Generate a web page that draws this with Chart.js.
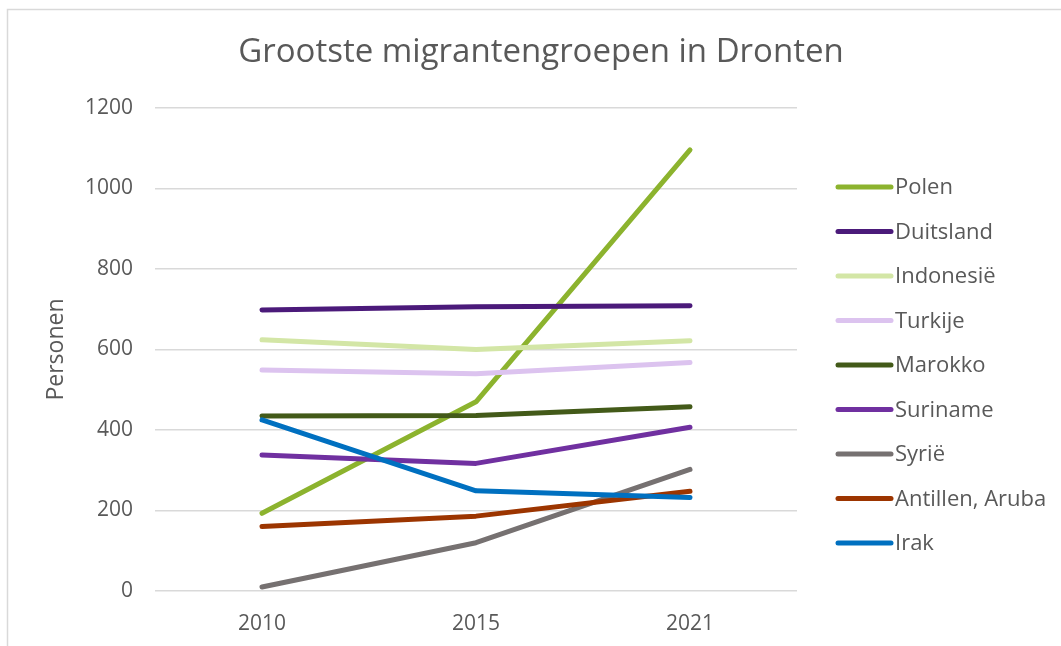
<!DOCTYPE html>
<html>
<head>
<meta charset="utf-8">
<script src="https://cdn.jsdelivr.net/npm/chart.js@4"></script>
<style>
  html, body { margin: 0; padding: 0; background: #ffffff; }
  #wrap { position: relative; width: 1061px; height: 646px; }
</style>
</head>
<body>
<div id="wrap"><canvas id="c" width="1061" height="646"></canvas></div>
<script>
const categories = ['2010', '2015', '2021'];
const seriesNames = ['Polen', 'Duitsland', 'Indonesië', 'Turkije', 'Marokko', 'Suriname', 'Syrië', 'Antillen, Aruba', 'Irak'];
const polen     = [193, 470, 1096];
const duitsland = [698, 706, 709];
const indonesie = [624, 600, 622];
const turkije   = [549, 540, 568];
const marokko   = [435, 436, 458];
const suriname  = [338, 317, 407];
const syrie     = [10, 120, 302];
const antillen  = [160, 186, 248];
const irak      = [425, 249, 232];
const yTicks = [0, 200, 400, 600, 800, 1000, 1200];
const chartTitle = 'Grootste migrantengroepen in Dronten';
const yTitle = 'Personen';

const seriesValues = [polen, duitsland, indonesie, turkije, marokko, suriname, syrie, antillen, irak];
const seriesColors = ['#8CB32E', '#4B1A7A', '#D3E6A6', '#DCC3EF', '#435A19', '#7030A0', '#767171', '#9C3500', '#0070C0'];

const FONT = "'Open Sans', 'Liberation Sans', sans-serif";
const TEXT = '#595959';
const GRID = '#d9d9d9';

const datasets = seriesNames.map((name, i) => ({
  label: name,
  data: seriesValues[i],
  borderColor: seriesColors[i],
  backgroundColor: seriesColors[i],
  borderWidth: 5,
  borderCapStyle: 'round',
  borderJoinStyle: 'round',
  pointRadius: 0,
  pointHoverRadius: 0,
  tension: 0,
  fill: false,
  order: -i
}));

const framePlugin = {
  id: 'frame',
  beforeDraw(chart) {
    const ctx = chart.ctx;
    ctx.save();
    ctx.strokeStyle = GRID;
    ctx.lineWidth = 1.5;
    ctx.beginPath();
    ctx.moveTo(7.5, 646);
    ctx.lineTo(7.5, 9.5);
    ctx.lineTo(1061, 9.5);
    ctx.stroke();
    ctx.fillStyle = TEXT;
    ctx.font = '33px ' + FONT;
    ctx.textAlign = 'center';
    ctx.textBaseline = 'middle';
    ctx.fillText(chartTitle, 541, 53);
    ctx.restore();
  }
};

const legendPlugin = {
  id: 'customLegend',
  afterDraw(chart) {
    const ctx = chart.ctx;
    ctx.save();
    ctx.font = '22px ' + FONT;
    ctx.textBaseline = 'middle';
    ctx.textAlign = 'left';
    chart.data.datasets.forEach((ds, i) => {
      const y = 187 + i * 44.5;
      ctx.strokeStyle = ds.borderColor;
      ctx.lineWidth = 5;
      ctx.lineCap = 'round';
      ctx.beginPath();
      ctx.moveTo(838, y);
      ctx.lineTo(891, y);
      ctx.stroke();
      ctx.fillStyle = TEXT;
      ctx.fillText(ds.label, 895, y + 1);
    });
    ctx.restore();
  }
};

new Chart(document.getElementById('c'), {
  type: 'line',
  data: { labels: categories, datasets },
  options: {
    responsive: false,
    animation: false,
    events: [],
    layout: { padding: { left: 40, right: 264, top: 108, bottom: 0 } },
    plugins: {
      legend: { display: false },
      tooltip: { enabled: false },
      title: { display: false }
    },
    scales: {
      x: {
        offset: true,
        grid: { display: false, drawTicks: false },
        border: { display: false },
        ticks: { color: TEXT, font: { family: FONT, size: 21 }, padding: 20, maxRotation: 0 },
        afterFit(s) { s.height = 55; }
      },
      y: {
        min: 0,
        max: 1200,
        afterBuildTicks(s) { s.ticks = yTicks.map(v => ({ value: v })); },
        grid: { color: GRID, lineWidth: 1.5, drawTicks: false },
        border: { display: false },
        ticks: { color: TEXT, font: { family: FONT, size: 21 }, padding: 22, callback: v => String(v) },
        title: {
          display: true,
          text: yTitle,
          color: TEXT,
          font: { family: FONT, size: 23 },
          padding: { top: 3, bottom: 0 }
        },
        afterFit(s) { s.width = 115; }
      }
    }
  },
  plugins: [framePlugin, legendPlugin]
});
</script>
</body>
</html>
